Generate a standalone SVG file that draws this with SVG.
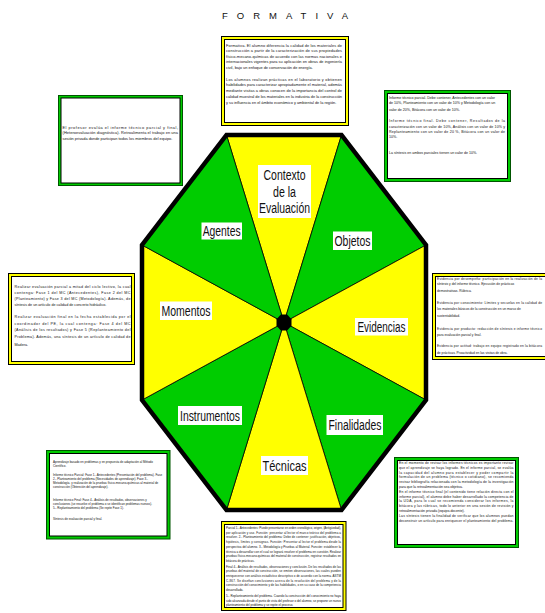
<svg xmlns="http://www.w3.org/2000/svg" width="545" height="613" viewBox="0 0 545 613">
<style>
.bg{fill:#ffffff}
.by{fill:#ffff00;stroke:#000;stroke-width:1}
.bgn{fill:#00cc00;stroke:#005500;stroke-width:1}
.in{fill:#ffffff;stroke:#000;stroke-width:1}
.t{font-family:"Liberation Sans",Arial,sans-serif;fill:#111}
.sy{fill:#ffff00;stroke:#000;stroke-width:0.8;stroke-linejoin:round}
.sg{fill:#00cc00;stroke:#000;stroke-width:0.8;stroke-linejoin:round}
.lr{fill:#ffffff}
.lbl{font-family:"Liberation Sans",Arial,sans-serif;font-size:14px;fill:#111;text-anchor:middle}
</style>
<rect class="bg" x="0" y="0" width="545" height="613"/>
<text class="t" x="222" y="18.5" font-size="9.5" textLength="126" lengthAdjust="spacing" fill="#222">FORMATIVA</text>

<g id="wheel">
<g id="sector-contexto">
<path class="sy" d="M284,322.5 L226.5,135 L341.5,135 Z"/>
<rect class="lr" x="258" y="165" width="53" height="53"/>
<text class="lbl" x="284.5" y="180" textLength="42" lengthAdjust="spacingAndGlyphs">Contexto</text>
<text class="lbl" x="284.5" y="196.5" textLength="23" lengthAdjust="spacingAndGlyphs">de la</text>
<text class="lbl" x="284.5" y="213" textLength="51" lengthAdjust="spacingAndGlyphs">Evaluación</text>
</g>
<g id="sector-objetos">
<path class="sg" d="M284,322.5 L341.5,135 L426,245 Z"/>
<rect class="lr" x="333" y="231.5" width="39" height="18.5"/>
<text class="lbl" x="352.5" y="245.5" textLength="36" lengthAdjust="spacingAndGlyphs">Objetos</text>
</g>
<g id="sector-evidencias">
<path class="sy" d="M284,322.5 L426,245 L426,400 Z"/>
<rect class="lr" x="355" y="318" width="53" height="17.5"/>
<text class="lbl" x="381.5" y="331.5" textLength="48" lengthAdjust="spacingAndGlyphs">Evidencias</text>
</g>
<g id="sector-finalidades">
<path class="sg" d="M284,322.5 L426,400 L341.5,510 Z"/>
<rect class="lr" x="326.5" y="415" width="56.5" height="20"/>
<text class="lbl" x="355" y="430" textLength="53" lengthAdjust="spacingAndGlyphs">Finalidades</text>
</g>
<g id="sector-tecnicas">
<path class="sy" d="M284,322.5 L341.5,510 L226.5,510 Z"/>
<rect class="lr" x="261" y="456" width="47" height="19"/>
<text class="lbl" x="284.5" y="470.5" textLength="44" lengthAdjust="spacingAndGlyphs">Técnicas</text>
</g>
<g id="sector-instrumentos">
<path class="sg" d="M284,322.5 L226.5,510 L142,400 Z"/>
<rect class="lr" x="178" y="406" width="64" height="19"/>
<text class="lbl" x="210" y="420.5" textLength="60" lengthAdjust="spacingAndGlyphs">Instrumentos</text>
</g>
<g id="sector-momentos">
<path class="sy" d="M284,322.5 L142,400 L142,245 Z"/>
<rect class="lr" x="160" y="301.5" width="52" height="18.5"/>
<text class="lbl" x="186" y="315.5" textLength="49" lengthAdjust="spacingAndGlyphs">Momentos</text>
</g>
<g id="sector-agentes">
<path class="sg" d="M284,322.5 L142,245 L226.5,135 Z"/>
<rect class="lr" x="201.5" y="222.5" width="40.5" height="17"/>
<text class="lbl" x="221.7" y="236" textLength="38" lengthAdjust="spacingAndGlyphs">Agentes</text>
</g>
<path d="M226.5,135 L341.5,135 L426,245 L426,400 L341.5,510 L226.5,510 L142,400 L142,245 Z" fill="none" stroke="#000" stroke-width="4.5" stroke-linejoin="miter"/>
<path id="hub" d="M280.8,314.5 L287.2,314.5 L291.5,319.3 L291.5,325.7 L287.2,330.5 L280.8,330.5 L276.5,325.7 L276.5,319.3 Z" fill="#000"/>
</g>

<g id="connectors"></g>

<g id="box-contexto">
<rect class="by" x="221.5" y="36.5" width="127" height="89"/>
<rect class="in" x="224.5" y="39.5" width="121" height="83"/>
<g class="t" font-size="3.9">
<text x="226" y="46.5" textLength="116" lengthAdjust="spacing">Formativa. El alumno diferencia la calidad de los materiales de</text>
<text x="226" y="52.1" textLength="116" lengthAdjust="spacing">construcción a partir de la caracterización de sus propiedades</text>
<text x="226" y="57.7" textLength="116" lengthAdjust="spacing">físico-mecano-químicas de acuerdo con las normas nacionales e</text>
<text x="226" y="63.3" textLength="116" lengthAdjust="spacing">internacionales vigentes para su aplicación en obras de ingeniería</text>
<text x="226" y="68.9">civil, bajo un enfoque de conservación de energía.</text>
<text x="226" y="80.5" textLength="116" lengthAdjust="spacing">Los alumnos realizan prácticas en el laboratorio y obtienen</text>
<text x="226" y="86.3" textLength="116" lengthAdjust="spacing">habilidades para caracterizar apropiadamente el material, además</text>
<text x="226" y="92.1" textLength="116" lengthAdjust="spacing">mediante visitas a obras conocen de la importancia del control de</text>
<text x="226" y="97.9" textLength="116" lengthAdjust="spacing">calidad muestral de los materiales en la industria de la construcción</text>
<text x="226" y="103.7">y su influencia en el ámbito económico y ambiental de la región.</text>
</g>
</g>

<g id="box-objetos">
<rect class="bgn" x="384.5" y="90.5" width="126" height="91"/>
<rect class="in" x="387.5" y="93.5" width="120" height="85"/>
<g class="t" font-size="3.6">
<text x="389" y="98.5">Informe técnico parcial. Debe contener, Antecedentes con un valor</text>
<text x="389" y="104.3">de 10%, Planteamiento con un valor de 10% y Metodología con un</text>
<text x="389" y="110.7">valor de 20%, Bitácora con un valor de 10%.</text>
<text x="389" y="122.3" textLength="116" lengthAdjust="spacing">Informe técnico final. Debe contener, Resultados de la</text>
<text x="389" y="127.5" textLength="116" lengthAdjust="spacing">caracterización con un valor de 10%, Análisis con un valor de 10% y</text>
<text x="389" y="132.7" textLength="116" lengthAdjust="spacing">Replanteamiento con un valor de 20 %,  Bitácora con un valor de</text>
<text x="389" y="137.9">10%.</text>
<text x="389" y="154">La síntesis en ambos parciales tienen un valor de 10%.</text>
</g>
</g>

<g id="box-agentes">
<rect class="bgn" x="58.5" y="95.5" width="124" height="90"/>
<rect class="in" x="61" y="98" width="119" height="85"/>
<g class="t" font-size="3.9">
<text x="62.5" y="128.5" textLength="115.5" lengthAdjust="spacing">El profesor evalúa el informe técnico parcial y final,</text>
<text x="62.5" y="134" textLength="115.5" lengthAdjust="spacing">(Heteroevaluación diagnóstica). Retroalimenta el trabajo en una</text>
<text x="62.5" y="139.5">sesión privada donde participan todos los miembros del equipo.</text>
</g>
</g>

<g id="box-momentos">
<rect class="by" x="8.5" y="273.5" width="126" height="91"/>
<rect class="in" x="11.5" y="276.5" width="120" height="85"/>
<g class="t" font-size="3.7">
<text x="14.5" y="288" textLength="116" lengthAdjust="spacing">Realizar evaluación parcial a mitad del ciclo lectivo, la cual</text>
<text x="14.5" y="294" textLength="116" lengthAdjust="spacing">contenga: Fase 1 del MC (Antecedentes), Fase 2 del MC</text>
<text x="14.5" y="300" textLength="116" lengthAdjust="spacing">(Planteamiento) y Fase 3 del MC (Metodología). Además, de</text>
<text x="14.5" y="306">síntesis de un artículo de calidad de concreto hidráulico.</text>
<text x="14.5" y="318" textLength="116" lengthAdjust="spacing">Realizar evaluación final en la fecha establecida por el</text>
<text x="14.5" y="324.5" textLength="116" lengthAdjust="spacing">coordinador del PE, la cual contenga: Fase 4 del MC</text>
<text x="14.5" y="331" textLength="116" lengthAdjust="spacing">(Análisis de los resultados) y Fase 5 (Replanteamiento del</text>
<text x="14.5" y="337.5" textLength="116" lengthAdjust="spacing">Problema). Además, una síntesis de un artículo de calidad de</text>
<text x="14.5" y="346">Madera.</text>
</g>
</g>

<g id="box-evidencias">
<rect class="by" x="432.5" y="273.5" width="130" height="86"/>
<rect class="in" x="435.5" y="276.5" width="124" height="80"/>
<g class="t" font-size="3.3">
<text x="437" y="280" textLength="105" lengthAdjust="spacing">Evidencia por desempeño: participación en la realización de la</text>
<text x="437" y="285.3">síntesis y del informe técnico. Ejecución de prácticas</text>
<text x="437" y="292.3">demostrativas. Rúbrica.</text>
<text x="437" y="304" textLength="105" lengthAdjust="spacing">Evidencia por conocimiento: Límites y secuelas en la calidad de</text>
<text x="437" y="309.7">los materiales básicos de la construcción en un marco de</text>
<text x="437" y="317.3">sustentabilidad.</text>
<text x="437" y="329.7" textLength="105" lengthAdjust="spacing">Evidencia por producto: redacción de síntesis e informe técnico</text>
<text x="437" y="336.3">para evaluación parcial y final.</text>
<text x="437" y="347.3" textLength="105" lengthAdjust="spacing">Evidencia por actitud: trabajo en equipo registrado en la bitácora</text>
<text x="437" y="354">de prácticas. Proactividad en las visitas de obra.</text>
</g>
</g>

<g id="box-instrumentos">
<rect class="bgn" x="46.5" y="450.5" width="123.5" height="88.5"/>
<rect class="in" x="49.5" y="453.5" width="117.5" height="82.5"/>
<g class="t" font-size="3">
<text x="53" y="463">Aprendizaje basado en problemas y en propuesta de adaptación al Método</text>
<text x="53" y="467">Científico.</text>
<text x="53" y="475.6">Informe técnico Parcial: Fase 1.- Antecedentes (Presentación del problema). Fase</text>
<text x="53" y="479.7">2.- Planteamiento del problema (Necesidades de aprendizaje). Fase 3.-</text>
<text x="53" y="483.8">Metodología. y realización de la pruebas físico-mecano-químicas al material de</text>
<text x="53" y="487.9">construcción (Obtención del aprendizaje).</text>
<text x="53" y="500.6">Informe técnico Final: Fase 4.- Análisis de resultados, observaciones y</text>
<text x="53" y="504.7">conclusiones (se resuelve el problema o se identifican problemas nuevos).</text>
<text x="53" y="508.8">5.- Replanteamiento del problema (Se repite Fase 1).</text>
<text x="53" y="520">Síntesis de evaluación parcial y final.</text>
</g>
</g>

<g id="box-finalidades">
<rect class="bgn" x="394.5" y="457.5" width="124" height="90"/>
<rect class="in" x="397.5" y="460.5" width="118" height="84"/>
<g class="t" font-size="3.4">
<text x="399" y="464" textLength="114.5" lengthAdjust="spacing">En el momento de revisar los informes técnicos es importante revisar</text>
<text x="399" y="468.8" textLength="114.5" lengthAdjust="spacing">que el aprendizaje se haya logrado. En el informe parcial, se evalúa</text>
<text x="399" y="473.6" textLength="114.5" lengthAdjust="spacing">la capacidad del alumno para establecer y poder compartir la</text>
<text x="399" y="478.4" textLength="114.5" lengthAdjust="spacing">formulación de un problema (técnico o cotidiano), se recomienda</text>
<text x="399" y="483.2" textLength="114.5" lengthAdjust="spacing">revisar bibliografía relacionada con la metodología de la investigación</text>
<text x="399" y="488">para que la retroalimentación sea objetiva.</text>
<text x="399" y="492.8" textLength="114.5" lengthAdjust="spacing">En el informe técnico final (el contenido tiene relación directa con el</text>
<text x="399" y="497.6" textLength="114.5" lengthAdjust="spacing">informe parcial), el alumno debe haber desarrollado la competencia de</text>
<text x="399" y="502.4" textLength="114.5" lengthAdjust="spacing">la UDA, para lo cual se recomienda considerar los informes, la</text>
<text x="399" y="507.2" textLength="114.5" lengthAdjust="spacing">bitácora y las rúbricas, todo lo anterior en una sesión de revisión y</text>
<text x="399" y="512">retroalimentación privada (equipo-docente).</text>
<text x="399" y="516.8" textLength="114.5" lengthAdjust="spacing">Las síntesis tienen la finalidad de verificar que los alumnos puedan</text>
<text x="399" y="521.6" textLength="114.5" lengthAdjust="spacing">deconstruir un artículo para enriquecer el planteamiento del problema.</text>
</g>
</g>

<g id="box-tecnicas">
<rect class="by" x="221.5" y="521.5" width="124.5" height="89"/>
<rect class="in" x="224.5" y="524.5" width="118.5" height="83"/>
<g class="t" font-size="3">
<text x="226" y="529" textLength="115" lengthAdjust="spacing">Parcial 1.- Antecedentes: Puede presentarse en orden cronológico, origen, (Antigüedad),</text>
<text x="226" y="533.7" textLength="115" lengthAdjust="spacing">por aplicación y uso. Función: presentar al lector el marco teórico del problema a</text>
<text x="226" y="538.4" textLength="115" lengthAdjust="spacing">resolver. 2.- Planteamiento del problema: Debe de contener: justificación, objetivos,</text>
<text x="226" y="543.1" textLength="115" lengthAdjust="spacing">hipótesis, límites y consignas. Función: Presentar al lector el problema desde la</text>
<text x="226" y="547.8" textLength="115" lengthAdjust="spacing">perspectiva del alumno. 3.- Metodología y Pruebas al Material. Función: establecer la</text>
<text x="226" y="552.5" textLength="115" lengthAdjust="spacing">técnica a desarrollar con el cual se logrará resolver el problema en cuestión. Realizar</text>
<text x="226" y="557.2" textLength="115" lengthAdjust="spacing">pruebas físico-mecano-químicas del material de construcción, registrar resultados en</text>
<text x="226" y="561.9">bitácora de prácticas.</text>
<text x="226" y="567.5" textLength="115" lengthAdjust="spacing">Final 4.- Análisis de resultados, observaciones y conclusión. De los resultados de las</text>
<text x="226" y="572.2" textLength="115" lengthAdjust="spacing">pruebas del material de construcción, se emiten observaciones, las cuales pueden</text>
<text x="226" y="576.9" textLength="115" lengthAdjust="spacing">enriquecerse con análisis estadístico descriptivo o de acuerdo con la norma. ASTM</text>
<text x="226" y="581.6" textLength="115" lengthAdjust="spacing">C-867. Se diseñan conclusiones acerca de la resolución del problema y de la</text>
<text x="226" y="586.3" textLength="115" lengthAdjust="spacing">construcción del conocimiento y de las habilidades, o en su caso de la competencia</text>
<text x="226" y="591">desarrollada.</text>
<text x="226" y="597" textLength="115" lengthAdjust="spacing">5.- Replanteamiento del problema. Cuando la construcción del conocimiento no haya</text>
<text x="226" y="601.7" textLength="115" lengthAdjust="spacing">sido alcanzada desde el punto de vista del profesor o del alumno, se propone un nuevo</text>
<text x="226" y="606.4">planteamiento del problema y se repite el proceso.</text>
</g>
</g>
</svg>
